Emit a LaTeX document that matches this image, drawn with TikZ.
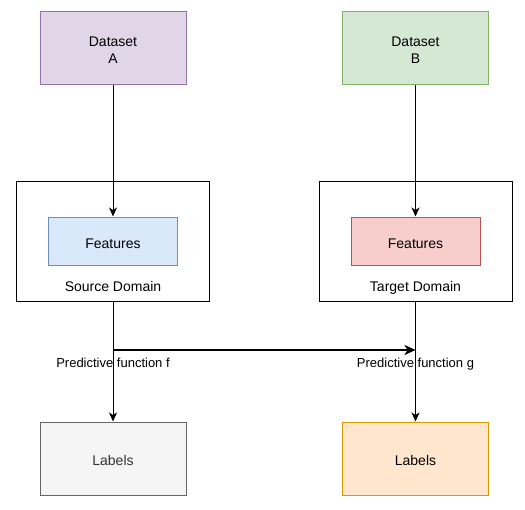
\documentclass[tikz,border=0pt]{standalone}
\usepackage{fontspec}
\setmainfont{Liberation Sans}
\usetikzlibrary{arrows.meta}
\definecolor{purpF}{HTML}{E1D5E7}\definecolor{purpD}{HTML}{9673A6}
\definecolor{greenF}{HTML}{D5E8D4}\definecolor{greenD}{HTML}{82B366}
\definecolor{blueF}{HTML}{DAE8FC}\definecolor{blueD}{HTML}{6C8EBF}
\definecolor{redF}{HTML}{F8CECC}\definecolor{redD}{HTML}{B85450}
\definecolor{greyF}{HTML}{F5F5F5}\definecolor{greyD}{HTML}{666666}\definecolor{greyT}{HTML}{333333}
\definecolor{orangeF}{HTML}{FFE6CC}\definecolor{orangeD}{HTML}{D79B00}
\tikzset{
  box/.style={draw, line width=1pt, minimum width=146pt, minimum height=73pt, inner sep=0pt, text depth=0pt, align=center, font=\fontsize{14pt}{17pt}\selectfont},
  twoline/.style={text height=31pt},
  oneline/.style={text height=14pt},
  domainbox/.style={draw=black, line width=1pt, fill=white, minimum width=193pt, minimum height=120pt, inner sep=0pt},
  featbox/.style={draw, line width=1pt, minimum width=129pt, minimum height=48pt, inner sep=0pt, text depth=0pt, text height=14pt, font=\fontsize{14pt}{17pt}\selectfont},
  dlabel/.style={font=\fontsize{14pt}{17pt}\selectfont, inner sep=0pt, anchor=base},
  elabel/.style={font=\fontsize{13pt}{15pt}\selectfont, inner sep=0pt, anchor=base},
  conn/.style={line width=1pt, -{Stealth[length=9pt,width=8pt,inset=2.5pt]}},
  thickconn/.style={line width=2.4pt, -{Stealth[length=11pt,width=10pt,inset=3pt]}}
}
\begin{document}
\begin{tikzpicture}[x=1pt,y=-1pt]
\useasboundingbox (0,0) rectangle (525,509);
\node[box, twoline, fill=purpF, draw=purpD] (dA) at (113,47.5) {Dataset\\A};
\node[box, twoline, fill=greenF, draw=greenD] (dB) at (415.5,47.5) {Dataset\\B};
\node[domainbox] (src) at (113,241) {};
\node[domainbox] (tgt) at (415.5,241) {};
\node[featbox, fill=blueF, draw=blueD] (fA) at (113,241) {Features};
\node[featbox, fill=redF, draw=redD] (fB) at (415.5,241) {Features};
\node[dlabel] (srcl) at (113,291) {Source Domain};
\node[dlabel] (tgtl) at (415.5,291) {Target Domain};
\node[box, oneline, fill=greyF, draw=greyD, text=greyT] (lA) at (113,458.5) {Labels};
\node[box, oneline, fill=orangeF, draw=orangeD] (lB) at (415.5,458.5) {Labels};
\coordinate (pf) at (113,350);
\coordinate (pg) at (415.5,350);
\draw[conn] (dA.south) -- (fA.north);
\draw[conn] (dB.south) -- (fB.north);
\draw[conn] (src.south) -- (lA.north);
\draw[conn] (tgt.south) -- (lB.north);
\draw[thickconn] (pf) -- (pg);
\node[elabel] (lf) at (113,367.5) {Predictive function f};
\node[elabel] (lg) at (415.5,367.5) {Predictive function g};
\end{tikzpicture}
\end{document}
